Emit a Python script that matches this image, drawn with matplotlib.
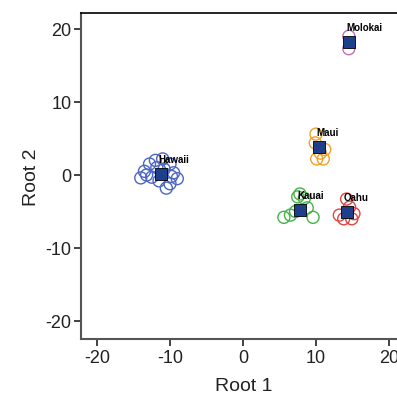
import numpy as np
import matplotlib.pyplot as plt

# group members (Root 1, Root 2)
hawaii_x = [-13.5, -12.8, -12.0, -11.0, -10.0, -9.5, -9.0, -10.0, -10.5, -11.5, -12.5, -13.2, -10.8, -11.8, -9.8, -14.0]
hawaii_y = [0.5, 1.5, 2.0, 2.2, 1.5, 0.3, -0.5, -1.2, -1.8, -0.8, -0.3, 0.0, 0.8, 1.0, -0.2, -0.4]
maui_x = [10.0, 9.9, 10.1, 11.0, 11.2, 10.6]
maui_y = [5.6, 4.4, 2.2, 2.2, 3.5, 3.0]
kauai_x = [7.5, 8.4, 5.6, 6.5, 7.2, 9.6, 8.8, 7.8]
kauai_y = [-3.0, -3.2, -5.8, -5.5, -5.0, -5.8, -4.5, -2.6]
oahu_x = [14.2, 13.2, 14.9, 13.8, 14.6, 15.2]
oahu_y = [-3.3, -5.5, -6.0, -6.0, -4.4, -5.3]
molokai_x = [14.5, 14.5]
molokai_y = [19.0, 17.3]

# group centroids
islands = ['Hawaii', 'Maui', 'Kauai', 'Oahu', 'Molokai']
cent_x = [-11.2, 10.4, 7.8, 14.2, 14.5]
cent_y = [0.1, 3.8, -4.8, -5.1, 18.2]

plt.rcParams['font.family'] = ['Liberation Sans', 'DejaVu Sans']
plt.rcParams['axes.unicode_minus'] = False

fig = plt.figure(figsize=(3.97, 4.02), dpi=100)
ax = fig.add_axes([81/397, 62/402, 326/397, 326/402])

groups = [(hawaii_x, hawaii_y, '#4d66c2'),
          (maui_x, maui_y, '#f0a12a'),
          (kauai_x, kauai_y, '#45b34a'),
          (oahu_x, oahu_y, '#e2443f'),
          (molokai_x, molokai_y, '#c46fb4')]
for gx, gy, c in groups:
    ax.scatter(gx, gy, s=75, facecolors='none', edgecolors=c, linewidths=1.0, zorder=2)

ax.scatter(cent_x, cent_y, marker='s', s=75, color='#1d3f8c', edgecolors='black', linewidths=0.6, zorder=3)
for name, cx, cy in zip(islands, cent_x, cent_y):
    ax.annotate(name, (cx, cy), xytext=(-2, 8.5), textcoords='offset points',
                fontsize=7, fontweight='bold', color='black', zorder=4)

ax.set_xlim(-22.19, 22.47)
ax.set_ylim(-22.47, 22.19)
ax.set_xticks([-20, -10, 0, 10, 20])
ax.set_yticks([-20, -10, 0, 10, 20])
ax.tick_params(labelsize=13, colors='#222222', length=5, width=1.2, pad=2)
for s in ['left', 'bottom']:
    ax.spines[s].set_color('#555555')
    ax.spines[s].set_linewidth(1.5)
ax.spines['top'].set_linewidth(1.2)
ax.set_xlabel('Root 1', fontsize=14, color='#222222', labelpad=8)
ax.set_ylabel('Root 2', fontsize=14, color='#222222', labelpad=4)

fig.savefig('out.png', dpi=100)
